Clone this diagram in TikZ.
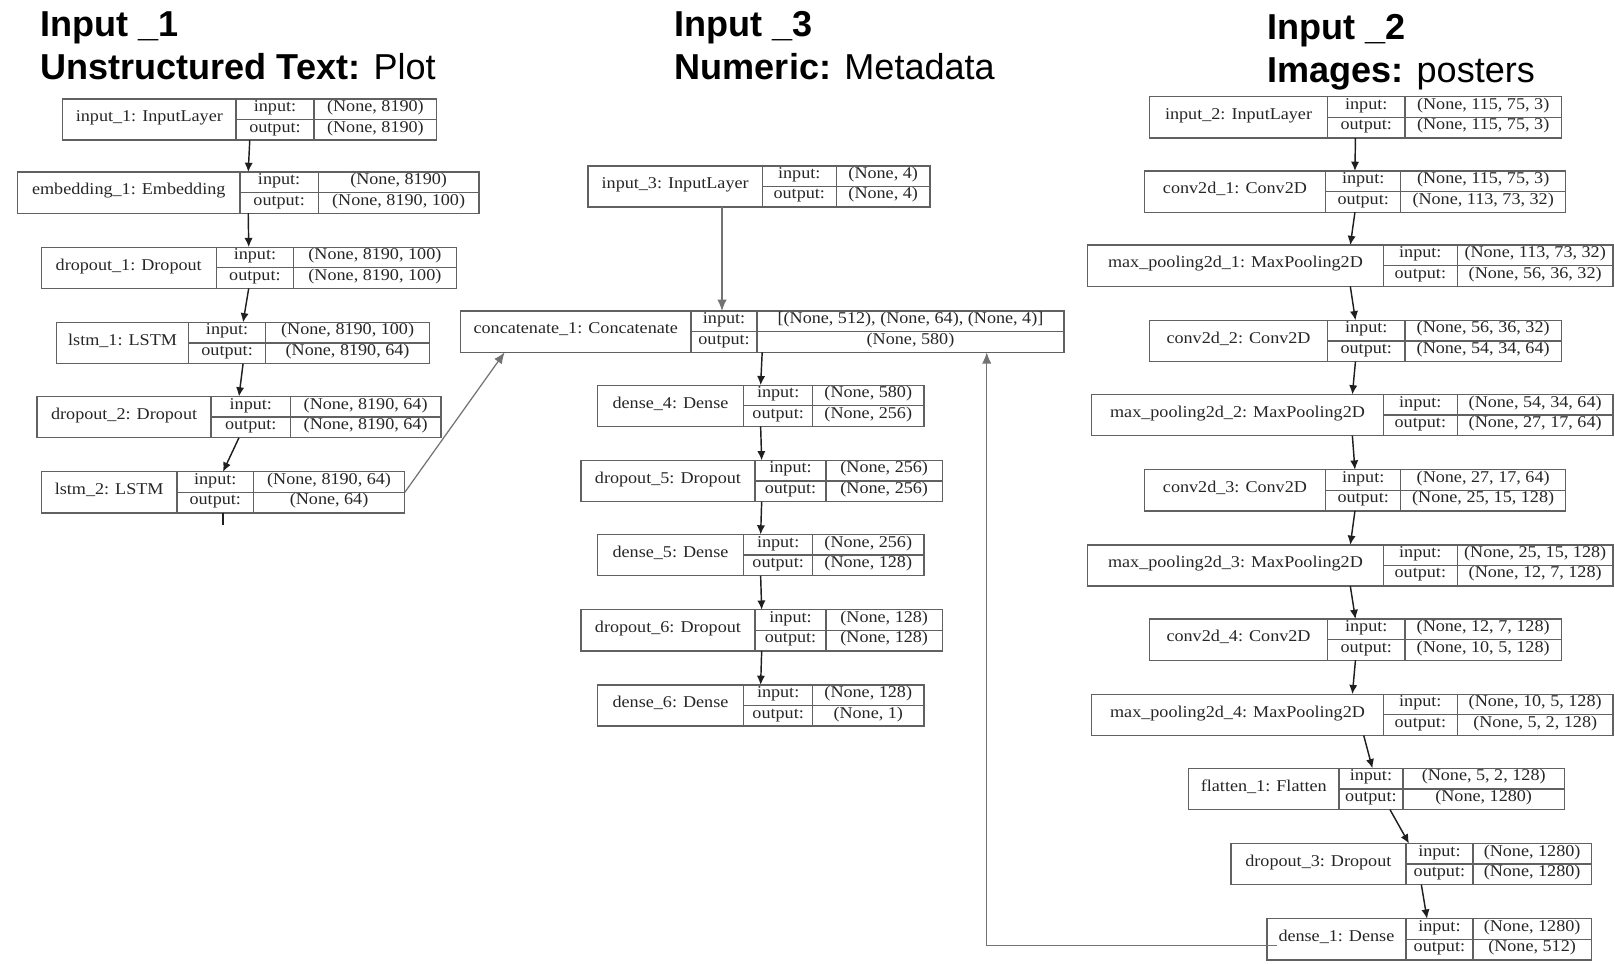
\documentclass[tikz,border=0pt]{standalone}
\usepackage{fontspec}
\usetikzlibrary{arrows.meta}
\newfontfamily\titlefont{Liberation Sans}
\newfontfamily\layerfont[FakeStretch=1.1]{Liberation Serif}

% one Keras layer: id, left, divider 1, divider 2, right, top, name, input shape, output shape
\newcommand\layerbox[9]{%
  \node[layer, minimum width={#5-#2}, anchor=north west] (#1) at (#2,#6) {};
  \draw[layerline] (#3,#6) -- (#3,{#6+40});
  \draw[layerline] (#4,#6) -- (#4,{#6+40});
  \draw[layerline] (#3,{#6+20}) -- (#5,{#6+20});
  \node[lbl] (#1-name) at ({(#2+#3)/2},{#6+20}) {#7};
  \node[lbl] (#1-ik)   at ({(#3+#4)/2},{#6+10}) {input:};
  \node[lbl] (#1-ok)   at ({(#3+#4)/2},{#6+30}) {output:};
  \node[lbl] (#1-iv)   at ({(#4+#5)/2},{#6+10}) {#8};
  \node[lbl] (#1-ov)   at ({(#4+#5)/2},{#6+30}) {#9};
}

\begin{document}
\begin{tikzpicture}[
  x=1pt, y=-1pt,
  layer/.style     = {draw=black!62, line width=1.3pt, minimum height=40pt, inner sep=0pt, outer sep=0pt},
  layerline/.style = {draw=black!62, line width=1.3pt},
  lbl/.style       = {font=\layerfont\fontsize{16}{18}\selectfont, text=black!85, inner sep=0pt, anchor=mid},
  title/.style     = {font=\titlefont\fontsize{35}{42}\selectfont, inner sep=0pt, anchor=base west},
  flow/.style      = {draw=black!88, line width=1.4pt, -{Latex[length=9pt,width=8pt]}},
  feed/.style      = {draw=black!55, line width=1.2pt, -{Latex[length=11pt,width=9pt]}},
  stub/.style      = {draw=black!88, line width=1.4pt},
]
\useasboundingbox (0,0) rectangle (1568,935);

% ---- titles ----------------------------------------------------------------
\node[title] (title1) at (39,35)   {\bfseries Input \_1};
\node[title] (sub1)   at (39,77)   {\textbf{Unstructured Text:} Plot};
\node[title] (title3) at (655,35)  {\bfseries Input \_3};
\node[title] (sub3)   at (655,77)  {\textbf{Numeric:} Metadata};
\node[title] (title2) at (1230,38) {\bfseries Input \_2};
\node[title] (sub2)   at (1230,80) {\textbf{Images:} posters};

% ---- text branch -----------------------------------------------------------
\layerbox{in1}{61}{229}{305}{424}{96}{input\_1: InputLayer}{(None, 8190)}{(None, 8190)}
\layerbox{emb1}{17}{233}{309}{465}{167}{embedding\_1: Embedding}{(None, 8190)}{(None, 8190, 100)}
\layerbox{drop1}{40}{210}{285}{443}{240}{dropout\_1: Dropout}{(None, 8190, 100)}{(None, 8190, 100)}
\layerbox{lstm1}{55}{183}{258}{417}{313}{lstm\_1: LSTM}{(None, 8190, 100)}{(None, 8190, 64)}
\layerbox{drop2}{36}{205}{282}{428}{385}{dropout\_2: Dropout}{(None, 8190, 64)}{(None, 8190, 64)}
\layerbox{lstm2}{40}{172}{246}{393}{458}{lstm\_2: LSTM}{(None, 8190, 64)}{(None, 64)}

% ---- metadata branch and head ----------------------------------------------
\layerbox{in3}{571}{740}{812}{903}{161}{input\_3: InputLayer}{(None, 4)}{(None, 4)}
\layerbox{concat}{447}{671}{735}{1033}{302}{concatenate\_1: Concatenate}{[(None, 512), (None, 64), (None, 4)]}{(None, 580)}
\layerbox{dense4}{580}{722}{789}{897}{374}{dense\_4: Dense}{(None, 580)}{(None, 256)}
\layerbox{drop5}{564}{733}{802}{915}{447}{dropout\_5: Dropout}{(None, 256)}{(None, 256)}
\layerbox{dense5}{580}{722}{789}{897}{519}{dense\_5: Dense}{(None, 256)}{(None, 128)}
\layerbox{drop6}{564}{733}{802}{915}{592}{dropout\_6: Dropout}{(None, 128)}{(None, 128)}
\layerbox{dense6}{580}{722}{789}{897}{665}{dense\_6: Dense}{(None, 128)}{(None, 1)}

% ---- poster branch ---------------------------------------------------------
\layerbox{in2}{1116}{1289}{1364}{1516}{94}{input\_2: InputLayer}{(None, 115, 75, 3)}{(None, 115, 75, 3)}
\layerbox{conv1}{1111}{1287}{1360}{1520}{166}{conv2d\_1: Conv2D}{(None, 115, 75, 3)}{(None, 113, 73, 32)}
\layerbox{pool1}{1056}{1343}{1415}{1566}{238}{max\_pooling2d\_1: MaxPooling2D}{(None, 113, 73, 32)}{(None, 56, 36, 32)}
\layerbox{conv2}{1116}{1289}{1364}{1516}{311}{conv2d\_2: Conv2D}{(None, 56, 36, 32)}{(None, 54, 34, 64)}
\layerbox{pool2}{1060}{1343}{1415}{1566}{383}{max\_pooling2d\_2: MaxPooling2D}{(None, 54, 34, 64)}{(None, 27, 17, 64)}
\layerbox{conv3}{1111}{1287}{1360}{1520}{456}{conv2d\_3: Conv2D}{(None, 27, 17, 64)}{(None, 25, 15, 128)}
\layerbox{pool3}{1056}{1343}{1415}{1566}{529}{max\_pooling2d\_3: MaxPooling2D}{(None, 25, 15, 128)}{(None, 12, 7, 128)}
\layerbox{conv4}{1116}{1289}{1364}{1516}{601}{conv2d\_4: Conv2D}{(None, 12, 7, 128)}{(None, 10, 5, 128)}
\layerbox{pool4}{1060}{1343}{1415}{1566}{674}{max\_pooling2d\_4: MaxPooling2D}{(None, 10, 5, 128)}{(None, 5, 2, 128)}
\layerbox{flat1}{1154}{1300}{1362}{1519}{746}{flatten\_1: Flatten}{(None, 5, 2, 128)}{(None, 1280)}
\layerbox{drop3}{1195}{1365}{1430}{1545}{819}{dropout\_3: Dropout}{(None, 1280)}{(None, 1280)}
\layerbox{dense1}{1230}{1365}{1430}{1545}{892}{dense\_1: Dense}{(None, 1280)}{(None, 512)}

% ---- straight chains -------------------------------------------------------
\foreach \a/\b in {in1/emb1, emb1/drop1, drop1/lstm1, lstm1/drop2, drop2/lstm2,
                   concat/dense4, dense4/drop5, drop5/dense5, dense5/drop6, drop6/dense6,
                   in2/conv1, conv1/pool1, pool1/conv2, conv2/pool2, pool2/conv3,
                   conv3/pool3, pool3/conv4, conv4/pool4}
  \draw[flow] (\a.south) -- (\b.north);

\draw[flow] ([xshift=11]pool4.south) -- ([xshift=-4]flat1.north);
\draw[flow] ([xshift=13]flat1.south) -- ([xshift=-2]drop3.north);
\draw[flow] ([xshift=10]drop3.south) -- ([xshift=-2]dense1.north);
\draw[stub] (lstm2.south) -- ++(0,12);

% ---- inputs of the concatenation -------------------------------------------
\draw[feed] (lstm2.east) -- ([xshift=43]concat.south west);
\coordinate (in3-out) at ([xshift=-36]in3.south);
\draw[feed] (in3-out) -- (in3-out |- concat.north);
\coordinate (fb-bend) at (958,918);
\draw[feed] ([xshift=10,yshift=-6]dense1.west) -- (fb-bend) -- (fb-bend |- concat.south);

\end{tikzpicture}
\end{document}
